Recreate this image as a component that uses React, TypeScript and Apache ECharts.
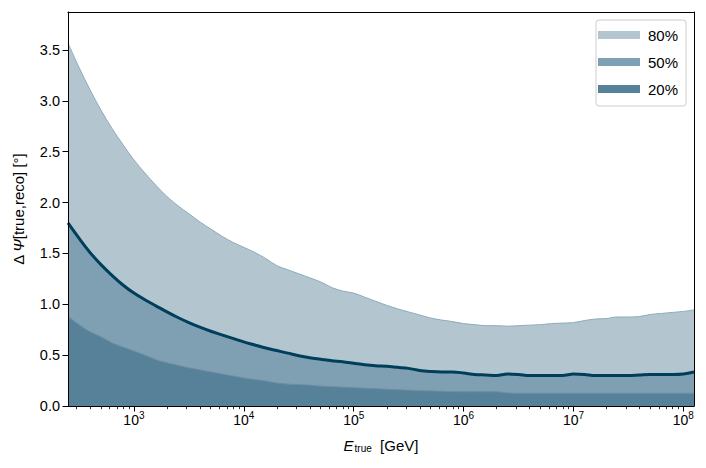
import React, { useEffect, useRef } from "react";
import * as echarts from "echarts";

// log10 of E_true [GeV]
const logE = [
  2.4, 2.5, 2.6, 2.7, 2.8, 2.9, 3.0, 3.1, 3.2, 3.3, 3.4, 3.5, 3.6, 3.7, 3.8, 3.9,
  4.0, 4.1, 4.2, 4.3, 4.4, 4.5, 4.6, 4.7, 4.8, 4.9, 5.0, 5.1, 5.2, 5.3, 5.4, 5.5,
  5.6, 5.7, 5.8, 5.9, 6.0, 6.1, 6.2, 6.3, 6.4, 6.5, 6.6, 6.7, 6.8, 6.9, 7.0, 7.1,
  7.2, 7.3, 7.4, 7.5, 7.6, 7.7, 7.8, 7.9, 8.0, 8.097,
];

const p80 = [
  3.57, 3.33, 3.11, 2.91, 2.73, 2.57, 2.42, 2.29, 2.17, 2.06, 1.97, 1.89, 1.81, 1.74, 1.67, 1.61,
  1.56, 1.51, 1.45, 1.38, 1.34, 1.30, 1.26, 1.22, 1.165, 1.13, 1.11, 1.07, 1.03, 0.99, 0.955, 0.925,
  0.895, 0.865, 0.845, 0.83, 0.81, 0.80, 0.79, 0.79, 0.785, 0.79, 0.795, 0.80, 0.81, 0.815, 0.82, 0.84,
  0.855, 0.86, 0.875, 0.875, 0.88, 0.90, 0.91, 0.92, 0.93, 0.945,
];

const p50 = [
  1.80, 1.65, 1.51, 1.39, 1.285, 1.19, 1.11, 1.045, 0.985, 0.925, 0.87, 0.82, 0.775, 0.735, 0.70, 0.665,
  0.63, 0.60, 0.57, 0.545, 0.52, 0.495, 0.475, 0.46, 0.445, 0.435, 0.42, 0.405, 0.395, 0.39, 0.38, 0.37,
  0.35, 0.34, 0.335, 0.335, 0.325, 0.31, 0.305, 0.30, 0.315, 0.31, 0.30, 0.30, 0.30, 0.30, 0.315, 0.31,
  0.30, 0.30, 0.30, 0.30, 0.305, 0.31, 0.31, 0.31, 0.315, 0.335,
];

const p20 = [
  0.88, 0.80, 0.73, 0.68, 0.62, 0.58, 0.54, 0.50, 0.455, 0.425, 0.40, 0.375, 0.355, 0.335, 0.315, 0.295,
  0.275, 0.26, 0.245, 0.225, 0.215, 0.21, 0.205, 0.195, 0.19, 0.185, 0.18, 0.175, 0.17, 0.165, 0.16, 0.155,
  0.15, 0.148, 0.145, 0.14, 0.14, 0.14, 0.14, 0.14, 0.128, 0.125, 0.125, 0.125, 0.125, 0.125, 0.125, 0.125,
  0.125, 0.125, 0.125, 0.125, 0.125, 0.125, 0.125, 0.125, 0.125, 0.125,
];

const xMajorTicks = [3, 4, 5, 6, 7, 8];
const yTicks = [0, 0.5, 1.0, 1.5, 2.0, 2.5, 3.0, 3.5];
const seriesNames = ["80%", "50%", "20%"];

const X_MIN = 2.4;
const X_MAX = 8.097;
const Y_MAX = 3.874;

const FONT = "Liberation Sans";
const C80 = "#b3c6d0";
const C50 = "#7f9fb2";
const C20 = "#568199";
const E80 = "#8eaabb";
const E20 = "#6a8ea4";
const LINE50 = "#003f5c";

function minorTicks(): number[] {
  const out: number[] = [];
  for (let n = 2; n <= 8; n++) {
    for (let k = 2; k <= 9; k++) {
      const v = n + Math.log10(k);
      if (v > X_MIN && v < X_MAX) out.push(v);
    }
  }
  return out;
}

export default function App() {
  const ref = useRef<HTMLDivElement>(null);

  useEffect(() => {
    if (!ref.current) return;
    const chart = echarts.init(ref.current, null, { renderer: "svg" });
    const pairs = (arr: number[]) => logE.map((x, i) => [x, arr[i]]);
    const grid = { left: 68, right: 12, top: 12, bottom: 62 };

    chart.setOption({
      animation: false,
      backgroundColor: "#ffffff",
      grid: { ...grid, show: false },
      legend: {
        orient: "vertical",
        left: 596,
        top: 20,
        padding: [7, 8, 9, 2],
        itemGap: 11,
        itemWidth: 42,
        itemHeight: 8,
        borderColor: "#cccccc",
        borderWidth: 1,
        borderRadius: 3,
        backgroundColor: "rgba(255,255,255,0.85)",
        textStyle: { fontFamily: FONT, fontSize: 15, color: "#000", padding: [0, 0, 0, 3], lineHeight: 16 },
        selectedMode: false,
        data: [
          { name: "80%", icon: "rect", itemStyle: { color: C80, borderWidth: 0 } },
          { name: "50%", icon: "rect", itemStyle: { color: C50, borderWidth: 0 } },
          { name: "20%", icon: "rect", itemStyle: { color: C20, borderWidth: 0 } },
        ],
      },
      xAxis: [
        {
          type: "value",
          min: X_MIN,
          max: X_MAX,
          position: "bottom",
          z: 10,
          splitLine: { show: false },
          axisLine: { show: true, lineStyle: { color: "#000", width: 1 } },
          axisTick: {
            show: true,
            customValues: xMajorTicks,
            length: 5.5,
            lineStyle: { color: "#000", width: 1 },
          },
          axisLabel: {
            customValues: xMajorTicks,
            margin: 4,
            formatter: (v: number) => `{b|10}{s|${Math.round(v)}}`,
            rich: {
              b: { fontFamily: FONT, fontSize: 14, color: "#000", lineHeight: 17, verticalAlign: "bottom" },
              s: { fontFamily: FONT, fontSize: 10, color: "#000", lineHeight: 10, verticalAlign: "top" },
            },
          },
        },
        {
          type: "value",
          min: X_MIN,
          max: X_MAX,
          position: "bottom",
          z: 10,
          splitLine: { show: false },
          axisLine: { show: false },
          axisLabel: { show: false },
          axisTick: {
            show: true,
            customValues: minorTicks(),
            length: 3.2,
            lineStyle: { color: "#000", width: 0.8 },
          },
        },
        {
          type: "value",
          min: X_MIN,
          max: X_MAX,
          position: "top",
          z: 10,
          splitLine: { show: false },
          axisLine: { show: true, lineStyle: { color: "#000", width: 1 } },
          axisLabel: { show: false },
          axisTick: { show: false },
        },
      ],
      yAxis: [
        {
          type: "value",
          min: 0,
          max: Y_MAX,
          position: "left",
          z: 10,
          splitLine: { show: false },
          axisLine: { show: true, lineStyle: { color: "#000", width: 1 } },
          axisTick: {
            show: true,
            customValues: yTicks,
            length: 5.5,
            lineStyle: { color: "#000", width: 1 },
          },
          axisLabel: {
            customValues: yTicks,
            margin: 8,
            fontFamily: FONT,
            fontSize: 14.5,
            color: "#000",
            formatter: (v: number) => v.toFixed(1),
          },
        },
        {
          type: "value",
          min: 0,
          max: Y_MAX,
          position: "right",
          z: 10,
          splitLine: { show: false },
          axisLine: { show: true, lineStyle: { color: "#000", width: 1 } },
          axisLabel: { show: false },
          axisTick: { show: false },
        },
      ],
      series: [
        {
          name: seriesNames[0],
          type: "line",
          xAxisIndex: 0,
          yAxisIndex: 0,
          data: pairs(p80),
          symbol: "none",
          smooth: 0.35,
          color: C80,
          lineStyle: { color: E80, width: 1 },
          areaStyle: { color: C80, opacity: 1 },
          z: 2,
        },
        {
          name: seriesNames[1],
          type: "line",
          xAxisIndex: 0,
          yAxisIndex: 0,
          data: pairs(p50),
          symbol: "none",
          smooth: 0.35,
          color: C50,
          lineStyle: { color: LINE50, width: 3 },
          areaStyle: { color: C50, opacity: 1 },
          z: 3,
        },
        {
          name: seriesNames[2],
          type: "line",
          xAxisIndex: 0,
          yAxisIndex: 0,
          data: pairs(p20),
          symbol: "none",
          smooth: 0.35,
          color: C20,
          lineStyle: { color: E20, width: 1 },
          areaStyle: { color: C20, opacity: 1 },
          z: 4,
        },
      ],
      graphic: [
        {
          type: "text",
          x: 18,
          y: 209,
          rotation: Math.PI / 2,
          style: {
            text: "{d|Δ}{p|Ψ}{n|[true,reco] [°]}",
            align: "center",
            verticalAlign: "middle",
            rich: {
              d: { fontFamily: FONT, fontSize: 15, fill: "#000", padding: [0, 3, 0, 0] },
              p: { fontFamily: FONT, fontSize: 15, fontStyle: "italic", fill: "#000" },
              n: { fontFamily: FONT, fontSize: 15, fill: "#000" },
            },
          },
        },
        {
          type: "text",
          x: 381,
          y: 444,
          style: {
            text: "{e|E}{t|true}{n|  [GeV]}",
            align: "center",
            verticalAlign: "middle",
            rich: {
              e: { fontFamily: FONT, fontSize: 15, fontStyle: "italic", fill: "#000", lineHeight: 18, verticalAlign: "bottom" },
              t: { fontFamily: FONT, fontSize: 10, fill: "#000", lineHeight: 12, verticalAlign: "bottom", padding: [0, 0, 0, 1] },
              n: { fontFamily: FONT, fontSize: 15, fill: "#000", lineHeight: 18, verticalAlign: "bottom" },
            },
          },
        },
      ],
    });

    return () => chart.dispose();
  }, []);

  return (
    <div
      ref={ref}
      style={{ position: "fixed", left: 0, top: 0, width: 706, height: 468, background: "#fff" }}
    />
  );
}
